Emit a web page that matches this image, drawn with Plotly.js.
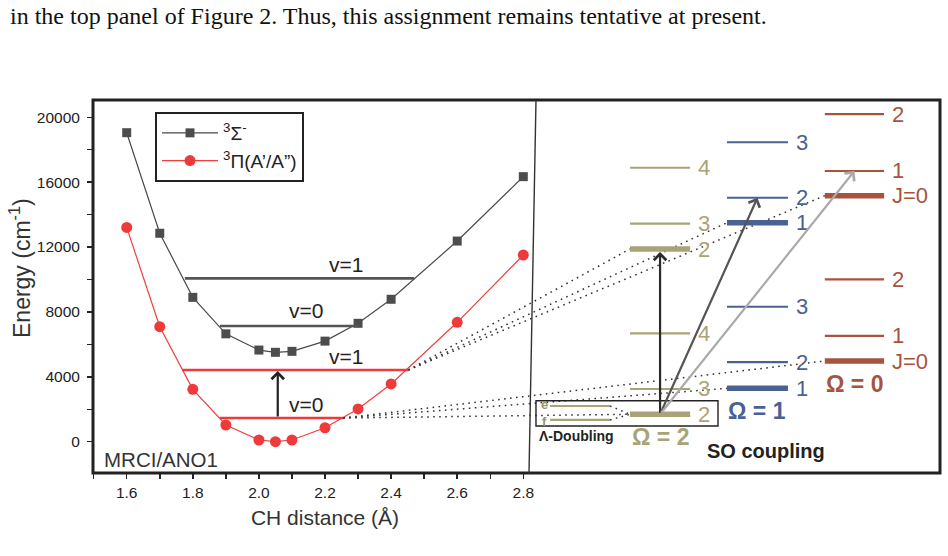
<!DOCTYPE html>
<html>
<head>
<meta charset="utf-8">
<script src="https://cdn.plot.ly/plotly-3.0.1.min.js"></script>
<style>
  html, body { margin: 0; padding: 0; background: #fff; }
  #chart { width: 948px; height: 556px; }
</style>
</head>
<body>
<div id="chart"></div>
<script>
// Potential energy curves along the C–H stretch (MRCI/ANO1), energies in cm-1
const rCH    = [1.6, 1.7, 1.8, 1.9, 2.0, 2.05, 2.1, 2.2, 2.3, 2.4, 2.6, 2.8];
const eSigma = [19050, 12850, 8900, 6650, 5650, 5510, 5570, 6200, 7300, 8780, 12370, 16340];
const ePi    = [13210, 7090, 3230, 1030, 105, 0, 105, 860, 2020, 3560, 7360, 11510];

// Vibrational levels: term value and the inner / outer turning points
const vibLabels     = ['v=0', 'v=1'];
const sigmaVibE     = [7130, 10070];
const sigmaVibInner = [1.882, 1.776];
const sigmaVibOuter = [2.301, 2.470];
const piVibE        = [1460, 4420];
const piVibInner    = [1.882, 1.768];
const piVibOuter    = [2.255, 2.452];

// Spin–orbit components of 3Π: rotational ladders for v=0 and v=1 (schematic)
const omega2J  = ['2', '3', '4'];
const omega2V0 = [1690, 3250, 6680];
const omega2V1 = [11880, 13440, 16890];
const omega1J  = ['1', '2', '3'];
const omega1V0 = [3290, 4900, 8320];
const omega1V1 = [13500, 15040, 18460];
const omega0J  = ['J=0', '1', '2'];
const omega0V0 = [4975, 6520, 10010];
const omega0V1 = [15170, 16690, 20190];

// Λ-doubling components of the lowest Ω = 2 level
const lambdaLabels = ['e', 'f'];
const lambdaE      = [2200, 1340];

// Axis ticks
const xTicks = [1.5, 1.6, 1.7, 1.8, 1.9, 2.0, 2.1, 2.2, 2.3, 2.4, 2.5, 2.6, 2.7, 2.8];
const xTickText = ['', '1.6', '', '1.8', '', '2.0', '', '2.2', '', '2.4', '', '2.6', '', '2.8'];
const yTicks = [0, 2000, 4000, 6000, 8000, 10000, 12000, 14000, 16000, 18000, 20000];
const yTickText = ['0', '', '4000', '', '8000', '', '12000', '', '16000', '', '20000'];

// ---- geometry of the drawing ----
const FONT = 'Liberation Sans, Arial, Helvetica, sans-serif';
const PLOT_W = 847, PLOT_H = 373; // plot area in px
const X_MIN = 1.498;              // left edge of the distance axis (Å)
const X_PX = 330.5;               // px per Å
const X_DOMAIN = 464 / PLOT_W;    // the distance axis only spans the left panel
const Y_RANGE = [-1930, 21066];
// schematic panel uses a 0..1 horizontal axis across the whole frame
const toPanel = r => (r - X_MIN) * X_PX / PLOT_W;
const px = p => p / PLOT_W;

const OLIVE = '#a9a478', BLUE = '#4a6194', BROWN = '#a8533d';
const columns = [
  { title: 'Ω = 2', color: OLIVE, x0: 0.634,  x1: 0.705,  J: omega2J, v0: omega2V0, v1: omega2V1 },
  { title: 'Ω = 1', color: BLUE,  x0: 0.7485, x1: 0.8205, J: omega1J, v0: omega1V0, v1: omega1V1 },
  { title: 'Ω = 0', color: BROWN, x0: 0.864,  x1: 0.934,  J: omega0J, v0: omega0V0, v1: omega0V1 }
];
const mid = c => (c.x0 + c.x1) / 2;
const DOTS = '1.6px,4.4px';

const traces = [];

// potential curves
traces.push({
  x: rCH, y: eSigma, type: 'scatter', mode: 'lines+markers',
  name: '<sup>3</sup>Σ<sup>-</sup>',
  line: { color: '#4a4a4a', width: 1.2 },
  marker: { symbol: 'square', size: 9, color: '#4d4d4d' }
});
traces.push({
  x: rCH, y: ePi, type: 'scatter', mode: 'lines+markers',
  name: '<sup>3</sup>Π(A’/A”)',
  line: { color: '#ef3f3f', width: 1.2 },
  marker: { symbol: 'circle', size: 11, color: '#ee3a3a' }
});

// vibrational levels drawn between the turning points
function segs(inner, outer) {
  const xs = [];
  inner.forEach((a, i) => { xs.push(a, outer[i], null); });
  return xs;
}
function ys(e) {
  const out = [];
  e.forEach(v => { out.push(v, v, null); });
  return out;
}
traces.push({
  x: segs(sigmaVibInner, sigmaVibOuter), y: ys(sigmaVibE), type: 'scatter', mode: 'lines',
  line: { color: '#555555', width: 2.6 }, showlegend: false, hoverinfo: 'skip'
});
traces.push({
  x: segs(piVibInner, piVibOuter), y: ys(piVibE), type: 'scatter', mode: 'lines',
  line: { color: '#eb3c3c', width: 2.6 }, showlegend: false, hoverinfo: 'skip'
});

// dotted correlation lines from the 3Π vibrational levels to the lowest level of each Ω
const dotX = [], dotY = [];
[0, 1].forEach(k => {
  columns.forEach(c => {
    dotX.push(toPanel(piVibOuter[k]), c.x0, null);
    dotY.push(piVibE[k], (k === 0 ? c.v0 : c.v1)[0], null);
  });
});
// Λ-doubling components merge into the Ω = 2, J = 2 level
const efX0 = 0.5396, efX1 = 0.6104;
lambdaE.forEach(e => {
  dotX.push(efX1, columns[0].x0, null);
  dotY.push(e, omega2V0[0], null);
});
traces.push({
  x: dotX, y: dotY, xaxis: 'x2', yaxis: 'y', type: 'scatter', mode: 'lines',
  line: { color: '#333', width: 1.5, dash: DOTS }, showlegend: false, hoverinfo: 'skip'
});

// e / f sublevels
traces.push({
  x: [efX0, efX1, null, efX0, efX1], y: [lambdaE[0], lambdaE[0], null, lambdaE[1], lambdaE[1]],
  xaxis: 'x2', yaxis: 'y', type: 'scatter', mode: 'lines',
  line: { color: OLIVE, width: 2.2 }, showlegend: false, hoverinfo: 'skip'
});

// Ω ladders: lowest J thick, others thin
columns.forEach(c => {
  const thickX = [], thickY = [], thinX = [], thinY = [];
  [c.v0, c.v1].forEach(lev => {
    lev.forEach((e, i) => {
      if (i === 0) { thickX.push(c.x0, c.x1, null); thickY.push(e, e, null); }
      else { thinX.push(c.x0, c.x1, null); thinY.push(e, e, null); }
    });
  });
  traces.push({ x: thinX, y: thinY, xaxis: 'x2', yaxis: 'y', type: 'scatter', mode: 'lines',
    line: { color: c.color, width: 2.2 }, showlegend: false, hoverinfo: 'skip' });
  traces.push({ x: thickX, y: thickY, xaxis: 'x2', yaxis: 'y', type: 'scatter', mode: 'lines',
    line: { color: c.color, width: 5.5 }, showlegend: false, hoverinfo: 'skip' });
});

// ---- annotations ----
const ann = [];
// running header text above the figure
ann.push({
  xref: 'paper', yref: 'paper', x: px(-85), y: 1 + 84 / PLOT_H, xanchor: 'left', yanchor: 'middle',
  text: 'in the top panel of Figure 2. Thus, this assignment remains tentative at present.',
  showarrow: false, font: { family: 'Liberation Serif, Times New Roman, serif', size: 24, color: '#111' }
});
// energy axis caption
ann.push({
  xref: 'paper', yref: 'paper', x: px(-73), y: (373 - 168) / PLOT_H, xanchor: 'center', yanchor: 'middle',
  textangle: -90, text: 'Energy (cm<sup>-1</sup>)', showarrow: false,
  font: { family: FONT, size: 23, color: '#333' }
});
// vibrational labels
const vibLabelX = [2.142, 2.262];
vibLabels.forEach((t, k) => {
  ann.push({ xref: 'x', yref: 'y', x: vibLabelX[k], y: sigmaVibE[k], yanchor: 'bottom', yshift: k === 0 ? 2 : 0,
    text: t, showarrow: false, font: { family: FONT, size: 21, color: '#222' } });
  ann.push({ xref: 'x', yref: 'y', x: vibLabelX[k], y: piVibE[k], yanchor: 'bottom',
    text: t, showarrow: false, font: { family: FONT, size: 21, color: '#222' } });
});
// method label
ann.push({ xref: 'x', yref: 'y', x: 1.525, y: -1100, xanchor: 'left', yanchor: 'middle',
  text: 'MRCI/ANO1', showarrow: false, font: { family: FONT, size: 20.5, color: '#333' } });
// v=0 -> v=1 excitation on the 3Π curve
ann.push({ xref: 'x', yref: 'y', axref: 'x', ayref: 'y', x: 2.057, y: piVibE[1], ax: 2.057, ay: piVibE[0],
  text: '', showarrow: true, arrowhead: 4, arrowsize: 1.1, arrowwidth: 2.2, arrowcolor: '#222', standoff: 1 });

// J labels and Ω captions
columns.forEach(c => {
  [c.v0, c.v1].forEach(lev => {
    lev.forEach((e, i) => {
      ann.push({ xref: 'x2', yref: 'y', x: c.x1 + px(6), y: e, xanchor: 'left', yanchor: 'middle',
        text: c.J[i], showarrow: false, font: { family: FONT, size: 22, color: c.color } });
    });
  });
  ann.push({ xref: 'x2', yref: 'y', x: mid(c), y: c.v0[0], yshift: -23, xanchor: 'center', yanchor: 'middle',
    text: '<b>' + c.title + '</b>', showarrow: false, font: { family: FONT, size: 23, color: c.color } });
});
// e / f labels
lambdaLabels.forEach((t, k) => {
  ann.push({ xref: 'x2', yref: 'y', x: 0.5336, y: lambdaE[k], yshift: k === 0 ? 1.5 : -1.5,
    xanchor: 'center', yanchor: 'middle',
    text: '<b>' + t + '</b>', showarrow: false, font: { family: FONT, size: 13, color: '#9c975f' } });
});
ann.push({ xref: 'x2', yref: 'y', x: 0.5714, y: 351, xanchor: 'center', yanchor: 'middle',
  text: '<b>Λ-Doubling</b>', showarrow: false, font: { family: FONT, size: 14, color: '#222' } });
ann.push({ xref: 'x2', yref: 'y', x: 0.7946, y: -573, xanchor: 'center', yanchor: 'middle',
  text: '<b>SO coupling</b>', showarrow: false, font: { family: FONT, size: 20, color: '#222' } });

// transitions from Ω = 2 (v=0) to the v=1 ladders
const tailX = mid(columns[0]);
ann.push({ xref: 'x2', yref: 'y', axref: 'x2', ayref: 'y', x: tailX, y: omega2V1[0], ax: tailX, ay: omega2V0[0],
  text: '', showarrow: true, arrowhead: 4, arrowsize: 1.1, arrowwidth: 2.2, arrowcolor: '#2a2a2a', standoff: 3 });
ann.push({ xref: 'x2', yref: 'y', axref: 'x2', ayref: 'y', x: mid(columns[1]), y: omega1V1[1], ax: tailX, ay: omega2V0[0],
  text: '', showarrow: true, arrowhead: 4, arrowsize: 1.1, arrowwidth: 2.2, arrowcolor: '#555', standoff: 0 });
ann.push({ xref: 'x2', yref: 'y', axref: 'x2', ayref: 'y', x: mid(columns[2]), y: omega0V1[1], ax: tailX, ay: omega2V0[0],
  text: '', showarrow: true, arrowhead: 4, arrowsize: 1.1, arrowwidth: 2.2, arrowcolor: '#aaa', standoff: 0 });

// ---- shapes: frame, panel divider, Λ-doubling box ----
const shapes = [
  { type: 'rect', xref: 'paper', yref: 'paper', x0: 0, x1: 1, y0: 0, y1: 1,
    line: { color: '#222', width: 3 }, layer: 'above' },
  { type: 'line', xref: 'paper', yref: 'paper', x0: px(443), y0: 1, x1: px(436), y1: 0,
    line: { color: '#333', width: 1.4 } },
  { type: 'rect', xref: 'x2', yref: 'y', x0: 0.523, x1: 0.7379, y0: 968, y1: 2528,
    line: { color: '#222', width: 1.4 } }
];

const layout = {
  width: 948, height: 556,
  margin: { l: 93, r: 8, t: 100, b: 83 },
  paper_bgcolor: '#fff', plot_bgcolor: 'rgba(0,0,0,0)',
  font: { family: FONT, color: '#222' },
  showlegend: true,
  legend: {
    x: px(62), y: 1 - 12 / PLOT_H, xanchor: 'left', yanchor: 'top',
    bgcolor: '#fff', bordercolor: '#222', borderwidth: 2,
    font: { family: FONT, size: 19, color: '#222' },
    tracegroupgap: 0, itemwidth: 56
  },
  xaxis: {
    domain: [0, X_DOMAIN], range: [X_MIN, X_MIN + 464 / X_PX],
    tickmode: 'array', tickvals: xTicks, ticktext: xTickText,
    ticks: 'outside', ticklen: 5, tickwidth: 1.5, tickcolor: '#222',
    tickfont: { family: FONT, size: 15.5, color: '#222' },
    showgrid: false, zeroline: false, showline: false,
    title: { text: 'CH distance (Å)', font: { family: FONT, size: 21, color: '#333' }, standoff: 10 }
  },
  xaxis2: {
    domain: [0, 1], anchor: 'y', range: [0, 1], visible: false, fixedrange: true
  },
  yaxis: {
    range: Y_RANGE,
    tickmode: 'array', tickvals: yTicks, ticktext: yTickText,
    ticks: 'outside', ticklen: 5, tickwidth: 1.5, tickcolor: '#222', ticklabelstandoff: 4,
    tickfont: { family: FONT, size: 15.5, color: '#222' },
    showgrid: false, zeroline: false, showline: false
  },
  annotations: ann,
  shapes: shapes
};

Plotly.newPlot('chart', traces, layout, { displayModeBar: false, staticPlot: true });
</script>
</body>
</html>
